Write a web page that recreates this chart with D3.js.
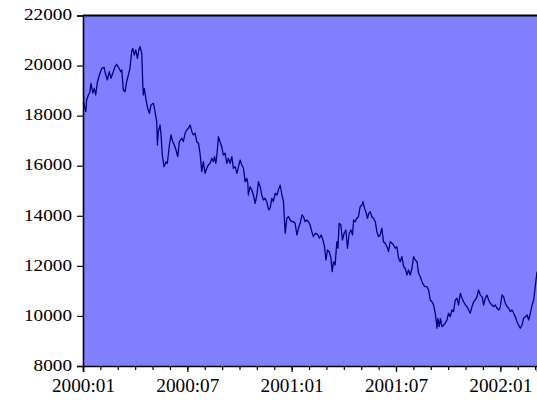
<!DOCTYPE html>
<html>
<head>
<meta charset="utf-8">
<script src="https://cdn.jsdelivr.net/npm/d3@7"></script>
<style>
  html, body { margin: 0; padding: 0; background: #ffffff; }
  svg { display: block; }
</style>
</head>
<body>
<svg id="chart" width="537" height="403"></svg>
<script>
// Daily index level, sampled: position in months since 2000:01, closing value
const monthIndex = [
  0.00,0.06,0.16,0.21,0.31,0.40,0.46,0.56,0.65,0.73,0.82,0.94,1.08,1.21,1.31,1.40,1.51,1.61,1.71,1.84,
  1.94,2.07,2.17,2.23,2.32,2.42,2.51,2.61,2.70,2.80,2.86,2.95,3.03,3.13,3.21,3.28,3.38,3.44,3.47,3.53,
  3.61,3.72,3.82,3.91,4.05,4.14,4.24,4.28,4.33,4.43,4.49,4.56,4.66,4.78,4.85,4.97,5.06,5.16,5.25,5.35,
  5.45,5.54,5.68,5.77,5.87,5.97,6.06,6.16,6.26,6.35,6.45,6.54,6.64,6.73,6.83,6.92,7.02,7.12,7.21,7.31,
  7.41,7.50,7.56,7.64,7.70,7.79,7.88,7.98,8.07,8.17,8.27,8.36,8.46,8.56,8.65,8.75,8.85,8.94,9.04,9.13,
  9.23,9.32,9.42,9.48,9.51,9.61,9.71,9.80,9.90,10.00,10.09,10.19,10.28,10.38,10.47,10.57,10.67,10.76,10.86,10.95,
  11.05,11.15,11.24,11.34,11.44,11.53,11.59,11.63,11.72,11.82,11.91,12.01,12.10,12.20,12.30,12.39,12.49,12.59,12.68,12.78,
  12.87,12.97,13.06,13.16,13.25,13.29,13.39,13.51,13.60,13.70,13.80,13.89,13.97,14.06,14.16,14.26,14.33,14.41,14.50,14.60,
  14.66,14.73,14.83,14.92,15.02,15.12,15.21,15.31,15.41,15.50,15.56,15.65,15.75,15.84,15.94,16.04,16.10,16.19,16.29,16.36,
  16.44,16.52,16.61,16.71,16.81,16.90,17.00,17.09,17.19,17.28,17.38,17.48,17.57,17.67,17.77,17.86,17.96,18.05,18.15,18.24,
  18.34,18.44,18.53,18.63,18.72,18.82,18.92,19.01,19.11,19.21,19.30,19.40,19.49,19.59,19.68,19.78,19.88,19.97,20.07,20.16,
  20.26,20.36,20.41,20.49,20.56,20.64,20.74,20.83,20.93,21.02,21.12,21.22,21.31,21.41,21.51,21.60,21.70,21.80,21.89,21.99,
  22.08,22.18,22.27,22.37,22.47,22.56,22.66,22.75,22.85,22.95,23.04,23.14,23.23,23.33,23.42,23.52,23.62,23.71,23.81,23.91,
  24.00,24.10,24.19,24.29,24.39,24.48,24.58,24.67,24.77,24.86,24.96,25.05,25.15,25.25,25.34,25.44,25.54,25.63,25.73,25.83,
  25.92,26.01,26.11
];
const close = [
  19090,18425,18158,18625,18825,18957,19292,18905,19092,18825,19304,19624,19891,19931,19624,19424,19755,19492,19691,19955,
  20051,19891,19755,19823,19024,18957,19356,19624,19891,20554,20690,20422,20622,20291,20622,20754,20490,19224,18825,19092,
  18693,18293,18094,18425,18493,18158,17758,16828,17359,17627,17227,16428,15961,16161,16097,16828,17227,16960,16828,16628,
  16361,16960,17095,16960,17295,17427,17495,17627,17359,17227,17295,16960,16896,16496,15761,16161,15697,15897,16029,16097,
  16297,16161,16361,16097,16428,17159,16960,16760,16428,16496,16097,16297,16097,16361,15897,15961,15697,15961,16228,16029,
  15897,15362,15498,15298,14831,15162,15030,14831,14499,14831,15362,15162,14831,14631,14699,14563,14232,14299,14699,14563,
  14898,14831,15030,15230,14831,14563,13764,13301,13900,13964,13832,13764,13764,13700,13233,13501,13700,14032,13964,13764,
  13832,13764,13632,13365,13165,13233,13301,13233,13101,13233,13033,12766,12235,12634,12566,12302,11767,12167,12035,12966,
  12702,13700,13632,13033,13301,13433,12702,13301,13433,13233,13832,13764,13900,13964,14363,14431,14563,14299,14100,13900,
  14100,14164,13964,13900,13764,13365,13165,13233,13501,12966,12902,12766,12566,12966,12902,12834,12702,12766,12302,12167,
  12367,11967,11903,11636,11835,11636,11903,12367,12235,12167,11703,11567,11368,11236,11168,11168,11036,10637,10569,10437,
  10106,9506,9906,9571,9906,9571,9639,9706,9838,10106,9970,10238,10170,10637,10705,10437,10905,10705,10569,10437,
  10370,10238,10106,10370,10569,10637,10769,11036,10837,10769,10437,10705,10837,10637,10505,10437,10370,10437,10306,10238,
  10370,10837,10769,10505,10370,10306,10170,10238,10106,9970,9771,9639,9506,9639,9906,9970,10037,9838,10106,10437,
  10637,11168,11767
];

// Axis ticks
const yTicks = [8000, 10000, 12000, 14000, 16000, 18000, 20000, 22000];
const xMajorTicks = [0, 6, 12, 18, 24];
const xTickLabels = ["2000:01", "2000:07", "2001:01", "2001:07", "2002:01"];
const xMinorTicks = d3.range(0, 27);

const serif = "'Liberation Serif', 'Times New Roman', serif";
const yStretch = 1.13;   // value labels are set slightly wide
const xStretch = 1.07;

const svg = d3.select("#chart");
const plotLeft = 83, plotRight = 537, plotTop = 15.5, plotBottom = 366;

const x = d3.scaleLinear().domain([0, 26.11]).range([plotLeft, plotRight]);
const y = d3.scaleLinear().domain([8000, 22000]).range([plotBottom, plotTop]);

// Plot background
svg.append("rect")
  .attr("x", plotLeft).attr("y", plotTop)
  .attr("width", plotRight - plotLeft).attr("height", plotBottom - plotTop)
  .attr("fill", "#8080ff");

svg.append("clipPath").attr("id", "plotclip")
  .append("rect")
  .attr("x", plotLeft).attr("y", plotTop)
  .attr("width", plotRight - plotLeft).attr("height", plotBottom - plotTop);

// Series line
const points = monthIndex.map((m, i) => [m, close[i]]);
svg.append("path")
  .datum(points)
  .attr("clip-path", "url(#plotclip)")
  .attr("fill", "none")
  .attr("stroke", "#000080")
  .attr("stroke-width", 1.3)
  .attr("stroke-linejoin", "round")
  .attr("d", d3.line().x(d => x(d[0])).y(d => y(d[1])));

// Left axis
const yAxis = svg.append("g")
  .attr("transform", `translate(${plotLeft},0)`)
  .call(d3.axisLeft(y).tickValues(yTicks).tickSize(6).tickPadding(5).tickFormat(d3.format("d")));
yAxis.select(".domain").attr("stroke", "#000").attr("stroke-width", 1.6);
yAxis.selectAll(".tick line").attr("stroke", "#000").attr("stroke-width", 1.2);
yAxis.selectAll(".tick text")
  .style("font-family", serif)
  .style("font-size", "17px")
  .attr("fill", "#000")
  .attr("x", -11 / yStretch)
  .attr("dy", "0.25em")
  .attr("transform", `scale(${yStretch},1)`);

// Bottom axis: monthly minor ticks, labelled half-year ticks
const xMinor = svg.append("g")
  .attr("transform", `translate(0,${plotBottom})`)
  .call(d3.axisBottom(x).tickValues(xMinorTicks).tickSize(4).tickFormat(""));
xMinor.select(".domain").remove();
xMinor.selectAll(".tick line").attr("stroke", "#000").attr("stroke-width", 1.2);

const xAxis = svg.append("g")
  .attr("transform", `translate(0,${plotBottom})`)
  .call(d3.axisBottom(x).tickValues(xMajorTicks).tickSize(6).tickPadding(5)
    .tickFormat((d, i) => xTickLabels[i]));
xAxis.select(".domain").attr("stroke", "#000").attr("stroke-width", 1.6);
xAxis.selectAll(".tick line").attr("stroke", "#000").attr("stroke-width", 1.2);
xAxis.selectAll(".tick text")
  .style("font-family", serif)
  .style("font-size", "18px")
  .attr("fill", "#000")
  .attr("y", 26.5)
  .attr("dy", "0")
  .attr("transform", `scale(${xStretch},1)`);

// Top frame line
svg.append("line")
  .attr("x1", plotLeft).attr("x2", plotRight)
  .attr("y1", plotTop).attr("y2", plotTop)
  .attr("stroke", "#000").attr("stroke-width", 1.8);
</script>
</body>
</html>
